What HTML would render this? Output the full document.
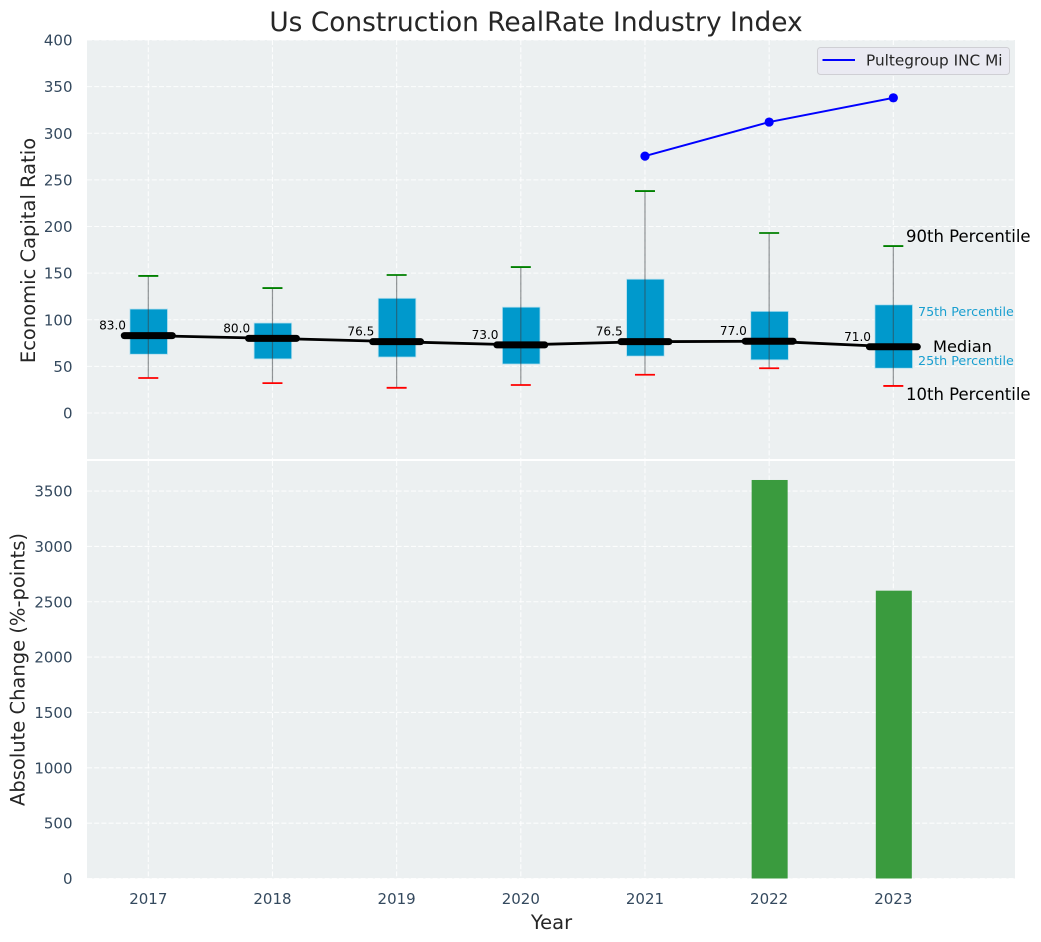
<!DOCTYPE html>
<html>
<head>
<meta charset="utf-8">
<title>Us Construction RealRate Industry Index</title>
<style>
html,body{margin:0;padding:0;background:#fff;}
svg{display:block;font-family:"DejaVu Sans","Liberation Sans",sans-serif;}
</style>
</head>
<body>
<svg id="chart" width="1041" height="942" viewBox="0 0 1041 942" xmlns="http://www.w3.org/2000/svg">
  <rect x="87" y="40" width="928" height="419" fill="#ecf0f1"/>
  <rect x="87" y="461" width="928" height="417.5" fill="#ecf0f1"/>
  <g id="grid"></g>
  <g id="marks"></g>
  <g id="ticks"></g>
  <text x="536" y="31" text-anchor="middle" font-size="26.4" fill="#262626">Us Construction RealRate Industry Index</text>
  <text transform="translate(35,250.5) rotate(-90)" text-anchor="middle" font-size="19.5" fill="#262626">Economic Capital Ratio</text>
  <text transform="translate(24.5,669.5) rotate(-90)" text-anchor="middle" font-size="19.5" fill="#262626">Absolute Change (%-points)</text>
  <text x="551.5" y="929" text-anchor="middle" font-size="19.5" fill="#262626">Year</text>
  <g>
    <rect x="817.5" y="47.5" width="192" height="27" rx="3" fill="#eaeaf2" stroke="#cfcfd4" stroke-width="1"/>
    <line x1="822.5" y1="60" x2="855" y2="60" stroke="#0000ff" stroke-width="2"/>
    <text x="866" y="65.5" font-size="15.3" fill="#262626">Pultegroup INC Mi</text>
  </g>
  <g>
    <text x="906" y="242" font-size="16.5" fill="#000">90th Percentile</text>
    <text x="918" y="316" font-size="12.7" fill="#1a9fd0">75th Percentile</text>
    <text x="933" y="352" font-size="16.2" fill="#000">Median</text>
    <text x="918" y="365" font-size="12.7" fill="#1a9fd0">25th Percentile</text>
    <text x="906" y="400" font-size="16.5" fill="#000">10th Percentile</text>
  </g>
</svg>
<script>
const years = [2017, 2018, 2019, 2020, 2021, 2022, 2023];
const p90 = [147, 134, 148, 156.5, 238, 193, 179];
const p75 = [111.5, 96.5, 123, 113.5, 143.5, 109, 116];
const medians = [83, 80, 76.5, 73, 76.5, 77, 71];
const p25 = [63, 58, 60, 52.5, 61, 57, 48];
const p10 = [37.5, 32, 27, 30, 41, 48, 29];
const companyYears = [2021, 2022, 2023];
const companyValues = [275.5, 312, 338];
const changeYears = [2022, 2023];
const changeValues = [3600, 2600];
const topTicks = [0, 50, 100, 150, 200, 250, 300, 350, 400];
const bottomTicks = [0, 500, 1000, 1500, 2000, 2500, 3000, 3500];

const NS = 'http://www.w3.org/2000/svg';
const gridG = document.getElementById('grid');
const marksG = document.getElementById('marks');
const ticksG = document.getElementById('ticks');

function xAt(v) { return 148.3 + (v - 2017) * 124.17; }
function yTop(v) { return 413 - v * 0.9325; }
function yBottom(v) { return 878.5 - v * 0.1107; }

function mk(tag, parent, props) {
  const el = document.createElementNS(NS, tag);
  for (const k in props) el.setAttribute(k, props[k]);
  parent.appendChild(el);
  return el;
}

const gridStyle = { stroke: '#ffffff', 'stroke-width': 1.1, 'stroke-dasharray': '5 2.2', 'stroke-opacity': 0.85 };

years.forEach(function (yr) {
  const a = mk('line', gridG, Object.assign({ x1: xAt(yr), x2: xAt(yr), y1: 40, y2: 459 }, gridStyle));
  
  
  const b = mk('line', gridG, Object.assign({ x1: xAt(yr), x2: xAt(yr), y1: 461, y2: 878.5 }, gridStyle));
  
  
  const t = mk('text', ticksG, { x: xAt(yr), y: 904, 'text-anchor': 'middle', 'font-size': 15, fill: '#34495e' });
  t.textContent = yr;
  
  
});

topTicks.forEach(function (v) {
  const y = yTop(v);
  const g = mk('line', gridG, Object.assign({ x1: 87, x2: 1015, y1: y, y2: y }, gridStyle));
  
  
  const t = mk('text', ticksG, { x: 72.5, y: y + 5.5, 'text-anchor': 'end', 'font-size': 15, fill: '#34495e' });
  t.textContent = v;
  
  
});

bottomTicks.forEach(function (v) {
  const y = yBottom(v);
  const g = mk('line', gridG, Object.assign({ x1: 87, x2: 1015, y1: y, y2: y }, gridStyle));
  
  
  const t = mk('text', ticksG, { x: 72.5, y: y + 5.5, 'text-anchor': 'end', 'font-size': 15, fill: '#34495e' });
  t.textContent = v;
  
  
});

/* bars */
changeYears.forEach(function (yr, i) {
  const top = yBottom(changeValues[i]);
  const r = mk('rect', marksG, { x: xAt(yr) - 17.5, y: top, width: 36, height: 878.5 - top, fill: '#3a9b3e' });
  
  
});

/* boxes */
years.forEach(function (yr, i) {
  const cx = xAt(yr);
  const top = yTop(p75[i]);
  const bottom = yTop(p25[i]);
  const box = mk('rect', marksG, { x: cx - 18.4, y: top, width: 37.6, height: bottom - top, fill: '#0099cc', stroke: '#b5dfee', 'stroke-width': 0.8 });
  
  
  const whisker = mk('line', marksG, { x1: cx, x2: cx, y1: yTop(p90[i]), y2: yTop(p10[i]), stroke: '#3a3f44', 'stroke-opacity': 0.55, 'stroke-width': 1.2 });
  
  
  const capHigh = mk('line', marksG, { x1: cx - 10, x2: cx + 10, y1: yTop(p90[i]), y2: yTop(p90[i]), stroke: '#008000', 'stroke-width': 1.8 });
  
  
  const capLow = mk('line', marksG, { x1: cx - 10, x2: cx + 10, y1: yTop(p10[i]), y2: yTop(p10[i]), stroke: '#ff0000', 'stroke-width': 1.8 });
  
  
});

/* median line */
const medianPath = mk('polyline', marksG, {
  points: years.map(function (yr, i) { return xAt(yr) + ',' + yTop(medians[i]); }).join(' '),
  fill: 'none', stroke: '#000', 'stroke-width': 2.8
});



years.forEach(function (yr, i) {
  const cx = xAt(yr);
  const y = yTop(medians[i]);
  const seg = mk('line', marksG, { x1: cx - 24, x2: cx + 24, y1: y, y2: y, stroke: '#000', 'stroke-width': 7, 'stroke-linecap': 'round' });
  
  
  const label = mk('text', marksG, { x: cx - 22.3, y: y - 6, 'text-anchor': 'end', 'font-size': 12.1, fill: '#000' });
  label.textContent = medians[i].toFixed(1);
  
  
});

/* company line */
const companyPath = mk('polyline', marksG, {
  points: companyYears.map(function (yr, i) { return xAt(yr) + ',' + yTop(companyValues[i]); }).join(' '),
  fill: 'none', stroke: '#0000ff', 'stroke-width': 2
});



companyYears.forEach(function (yr, i) {
  const c = mk('circle', marksG, { cx: xAt(yr), cy: yTop(companyValues[i]), r: 4.6, fill: '#0000ff' });
  
  
});
</script>
</body>
</html>
